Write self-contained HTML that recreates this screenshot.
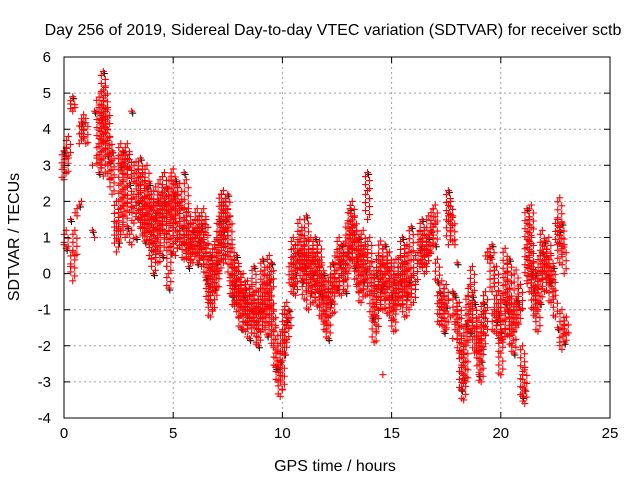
<!DOCTYPE html>
<html><head><meta charset="utf-8"><style>
body{margin:0;background:#fff}
svg text{font-family:"Liberation Sans",sans-serif;font-size:16px;fill:#000}
svg text.tk{font-size:15px}
</style></head><body>
<svg id="chart" width="640" height="480" viewBox="0 0 640 480">
<rect width="640" height="480" fill="#fff"/>
<text x="333" y="35" text-anchor="middle">Day 256 of 2019, Sidereal Day-to-day VTEC variation (SDTVAR) for receiver sctb</text>
<text x="335" y="471" text-anchor="middle">GPS time / hours</text>
<text transform="translate(19,237) rotate(-90)" text-anchor="middle">SDTVAR / TECUs</text>
<g id="grid"></g><g id="marks"></g><g id="axes"></g>
</svg>
<script>
const xTicks=[0,5,10,15,20,25];
const yTicks=[-4,-3,-2,-1,0,1,2,3,4,5,6];
const times=[0.0,0.1,0.2,0.3,0.4,0.5,0.6,0.7,0.8,0.9,1.0,1.3,1.4,1.5,1.6,1.7,1.8,1.9,2.0,2.1,2.2,2.4,2.5,2.6,2.7,2.8,2.9,3.0,3.1,3.2,3.3,3.4,3.5,3.6,3.7,3.8,3.9,4.0,4.1,4.2,4.3,4.4,4.5,4.6,4.7,4.8,4.9,5.0,5.1,5.2,5.3,5.4,5.5,5.6,5.7,5.8,5.9,6.0,6.1,6.2,6.3,6.4,6.5,6.6,6.7,6.8,6.9,7.0,7.1,7.2,7.3,7.4,7.5,7.6,7.7,7.8,7.9,8.0,8.1,8.2,8.3,8.4,8.5,8.6,8.7,8.8,8.9,9.0,9.1,9.2,9.3,9.4,9.5,9.6,9.7,9.8,9.9,10.0,10.1,10.2,10.3,10.4,10.5,10.6,10.7,10.8,10.9,11.0,11.1,11.2,11.3,11.4,11.5,11.6,11.7,11.8,11.9,12.0,12.1,12.2,12.3,12.4,12.5,12.6,12.7,12.8,12.9,13.0,13.1,13.2,13.3,13.4,13.5,13.6,13.7,13.8,13.9,14.0,14.1,14.2,14.3,14.4,14.5,14.6,14.7,14.8,14.9,15.0,15.1,15.2,15.3,15.4,15.5,15.6,15.7,15.8,15.9,16.0,16.1,16.3,16.4,16.5,16.6,16.7,16.8,16.9,17.0,17.1,17.2,17.3,17.4,17.5,17.6,17.7,17.8,17.9,18.0,18.1,18.2,18.3,18.4,18.5,18.6,18.7,18.8,18.9,19.0,19.1,19.2,19.3,19.4,19.5,19.6,19.7,19.8,19.9,20.0,20.1,20.2,20.3,20.4,20.5,20.6,20.7,20.8,20.9,21.0,21.1,21.2,21.3,21.4,21.5,21.6,21.7,21.8,21.9,22.0,22.1,22.2,22.3,22.4,22.5,22.6,22.7,22.8,22.9,23.0];
const values=[[2.6,3.0,3.4,0.8],[2.8,3.5,1.2,0.7],[3.8,3.2],[4.7,1.5,0.2],[4.9,4.5,0.6,-0.2],[4.6,1.2,0.5],[1.8,1.6],[1.9,3.6],[3.7,4.2,2.0],[4.0,4.4,3.8],[4.3,3.6],[3.0,1.2],[4.5,1.0],[4.8,3.2],[4.6,3.6,2.8],[5.0,4.3,3.0],[5.6,4.8,3.7,2.7],[5.2,4.2,3.6],[4.6,4.0,3.3],[3.8,3.1,2.6],[3.4,2.2],[1.4,0.6,2.0],[0.9,1.3,3.2],[1.8,3.6,3.0,1.2],[3.4,2.6,1.6],[3.1,2.2,1.0],[2.9,3.6,1.3],[3.3,2.5,1.7],[2.7,1.2,0.8,4.5],[2.2,1.8,1.4],[2.5,3.1,1.0],[2.9,2.0,1.5],[3.2,2.3,1.3],[2.8,1.8,1.1],[2.1,1.6,0.9],[3.0,2.4,1.2],[2.5,1.8,0.8],[2.2,1.5,0.4],[1.9,1.2,0.0],[2.4,1.6,0.6],[2.0,1.0,0.3],[2.6,1.8,1.2],[2.2,1.4,0.5],[2.8,2.0,1.0],[2.4,1.6,0.2],[2.0,1.2,0.0,-0.4],[2.7,1.5,0.6],[2.9,2.2,1.4],[2.6,1.6,0.5],[2.2,1.0,0.7],[2.5,1.8],[2.0,1.3,0.8],[2.8,1.0,0.4],[2.6,1.6,0.6],[1.8,1.2,0.2],[1.4,0.8,0.4],[1.2,0.7,0.3],[1.5,1.0,0.6],[1.8,1.1,0.3],[1.6,0.9,0.5],[1.3,0.7,0.2],[1.8,1.0,0.4],[1.5,0.6,-0.1],[0.8,-0.3,-0.8],[0.5,-0.6,-1.2],[0.2,-0.5,-1.0],[0.8,0.1,-0.4],[1.0,0.3,-0.6],[1.5,0.6,0.0],[2.2,1.7,0.8],[2.3,1.9,1.2,0.3],[2.0,1.5,0.4],[2.2,1.8,1.2],[1.6,0.6,-0.2],[0.8,0.0,-0.6],[0.3,-0.3,-0.9],[0.5,-0.2,-0.8],[0.2,-0.5,-1.2],[-0.3,-0.9,-1.5],[0.0,-0.6,-1.1],[-0.4,-1.0,-1.6],[-0.2,-0.8,-1.4],[-0.6,-1.2,-1.8],[-0.3,-1.0,-1.5],[0.2,-0.7,-1.3],[-0.5,-1.1,-1.9],[-0.8,-1.4,-2.0],[-0.4,-1.0,-1.6],[0.4,-0.3,-1.2],[0.1,-0.7,-1.5],[-0.3,-1.0,-1.7],[0.5,-0.2,-0.9],[0.3,-0.6,-1.4],[-1.0,-1.6,-2.0],[-1.5,-2.2,-2.6],[-2.0,-2.6,-3.0],[-2.4,-3.0,-3.4],[-1.6,-2.4,-3.2],[-1.0,-1.6,-2.2],[-0.8,-1.3,-1.9],[-1.0,-1.5],[0.3,-0.5],[1.0,0.4,-0.3],[0.8,0.0,-0.6],[0.6,0.1],[1.5,0.9,0.3],[1.2,0.5,-0.2],[0.8,0.2,-0.7],[1.6,0.9,0.0],[0.5,-0.4,-1.0],[1.0,0.3,-0.5],[0.7,0.0,-0.8],[1.0,0.4,-0.3],[0.6,-0.2,-0.9],[0.9,0.2,-0.5],[0.3,-0.6,-1.2],[0.0,-0.7,-1.4],[-0.2,-1.0,-1.6],[-0.5,-1.2,-1.8],[-0.1,-0.8],[0.3,-0.4,-1.1],[0.0,-0.5],[0.6,0.1,-0.4],[1.0,0.3],[0.8,0.0,-0.6],[0.5,-0.2],[0.9,0.1,-0.5],[1.4,0.6,0.0],[1.8,1.1,0.4],[2.0,1.3,0.7],[1.6,0.9,0.2],[1.2,0.4,-0.3],[1.0,0.2,-0.5],[0.6,-0.2,-0.8],[1.2,0.5,-0.2],[0.8,0.1,-0.6],[2.8,2.3,1.5],[1.0,0.2,-0.5],[0.3,-0.5,-1.2],[-0.5,-1.2,-1.9],[0.0,-0.8,-1.6],[0.5,-0.3,-1.0],[0.9,0.2,-0.4],[0.4,-0.3,-1.0,-2.8],[0.8,0.0,-0.7],[0.3,-0.4,-1.1],[0.6,-0.2],[0.2,-0.6,-1.3],[-0.2,-0.9,-1.6],[0.4,-0.4,-1.0],[0.0,-0.7],[0.5,-0.2,-0.9],[1.0,0.3,-0.5],[0.3,-0.5,-1.2],[0.8,0.1,-0.6],[0.6,-0.2,-1.0],[1.3,0.6],[0.0,-0.8],[0.5,-0.3],[1.2,0.7,0.2],[1.5,0.9,0.3],[1.2,0.5,0.0],[0.8,0.2],[1.6,1.0,0.5],[1.2,0.6],[1.8,1.3],[1.9,1.4,0.8],[0.4,-0.2],[-0.5,-1.0,-1.4],[-0.2,-0.8,-1.3],[-0.6,-1.1,-1.6],[-0.3,-0.9,-1.5],[2.3,1.6,0.8,-0.7],[2.0,1.2,-1.2],[1.6,0.9,-0.5,-1.8],[0.8,-0.6,-1.4],[0.3,-1.0,-1.8],[-0.8,-1.5,-2.2],[-1.8,-2.6,-3.2],[-2.2,-2.9,-3.5],[-1.4,-2.0,-3.0],[-0.6,-1.3,-1.9],[-0.3,-1.0,-1.6],[0.2,-0.6],[-0.8,-1.5,-2.2],[-1.5,-2.2],[-1.2,-2.0,-2.8],[-1.8,-2.4,-3.0],[-0.8,-1.5,-2.1],[-0.5,-1.1,-1.7],[0.6,0.4],[0.7,0.5],[0.8,0.4,-0.5],[-1.0,-1.6],[0.2,-0.6,-1.3],[-0.5,-1.1,-1.8],[-1.6,-2.2,-2.8],[-0.6,-1.3,-1.9],[0.7,0.0,-0.8],[-0.2,-1.0,-1.7],[0.4,-0.4,-1.2],[-0.7,-1.4,-2.0],[-1.0,-1.6,-2.2],[0.1,-0.7,-1.5],[-0.8,-1.4],[-0.3,-1.0],[-2.0,-2.8,-3.4],[-2.6,-3.2,-3.6],[1.8,0.8,-0.2],[1.5,0.5,-0.5],[1.9,1.0,0.0],[0.3,-0.4,-1.0],[0.0,-0.6,-1.2],[-0.4,-1.0,-1.6],[0.5,-0.2,-0.8],[1.2,0.6,0.0],[0.9,0.2,-0.5],[0.6,-0.1],[1.0,0.4,-0.2],[0.5,-0.2,-0.8],[0.2,-0.5],[-0.6,-1.2],[1.5,0.8,-1.5],[2.1,1.2,0.3,-1.9],[1.4,0.6,-1.0,-2.1],[0.8,0.0,-1.4,-1.9],[-1.2,-1.7]];

const L=64,R=610,T=57,B=418;
const xS=t=>L+(t-0)/(25-0)*(R-L);
const yS=v=>B-(v+4)/(10)*(B-T);
const NS="http://www.w3.org/2000/svg";
function mk(tag,attrs,parent){const e=document.createElementNS(NS,tag);for(const k in attrs)e.setAttribute(k,attrs[k]);parent.appendChild(e);return e;}
const grid=document.getElementById('grid'),marks=document.getElementById('marks'),axes=document.getElementById('axes');
xTicks.forEach(t=>{
  if(t>0&&t<25){const g=mk('line',{x1:xS(t),x2:xS(t),y1:T,y2:B,stroke:'#a0a0a0','stroke-dasharray':'2,3'},grid);
  
  }
  const tk=mk('path',{d:`M${xS(t)},${B}v-6M${xS(t)},${T}v6`,stroke:'#000'},axes);
  
  
  const lb=mk('text',{x:xS(t),y:B+20,'text-anchor':'middle','class':'tk'},axes);lb.textContent=t;
  
  
});
yTicks.forEach(v=>{
  if(v>-4&&v<6){const g=mk('line',{x1:L,x2:R,y1:yS(v),y2:yS(v),stroke:'#a0a0a0','stroke-dasharray':'2,3'},grid);
  
  }
  const tk=mk('path',{d:`M${L},${yS(v)}h6M${R},${yS(v)}h-6`,stroke:'#000'},axes);
  
  
  const lb=mk('text',{x:L-13,y:yS(v)+5,'text-anchor':'end','class':'tk'},axes);lb.textContent=v;
  
  
});
const fr=mk('rect',{x:L,y:T,width:R-L,height:B-T,fill:'none',stroke:'#000'},axes);


let dk='',rd='';
function cross(x,y){return `M${x-3.5},${y}h7M${x},${y-3.5}v7`;}
times.forEach((t,i)=>{
  const vs=values[i].slice().sort((a,b)=>b-a);
  const x=xS(t);
  vs.forEach((v,j)=>{
    const y=yS(v);
    if((i+j)%4===0)dk+=cross(x+1,y+2);
    rd+=cross(x,y);
    if(j<vs.length-1&&vs[j]-vs[j+1]<1.3){
      const y2=yS(vs[j+1]);
      for(let yy=y+4,k=0;yy<y2-1;yy+=4,k++)rd+=cross(x+(k%2?2:-2),yy);
    }
  });
});
const dp=mk('path',{d:dk,stroke:'#000',fill:'none','stroke-width':1},marks);


const rp=mk('path',{d:rd,stroke:'#ff0000',fill:'none','stroke-width':1.1},marks);


</script>
</body></html>
